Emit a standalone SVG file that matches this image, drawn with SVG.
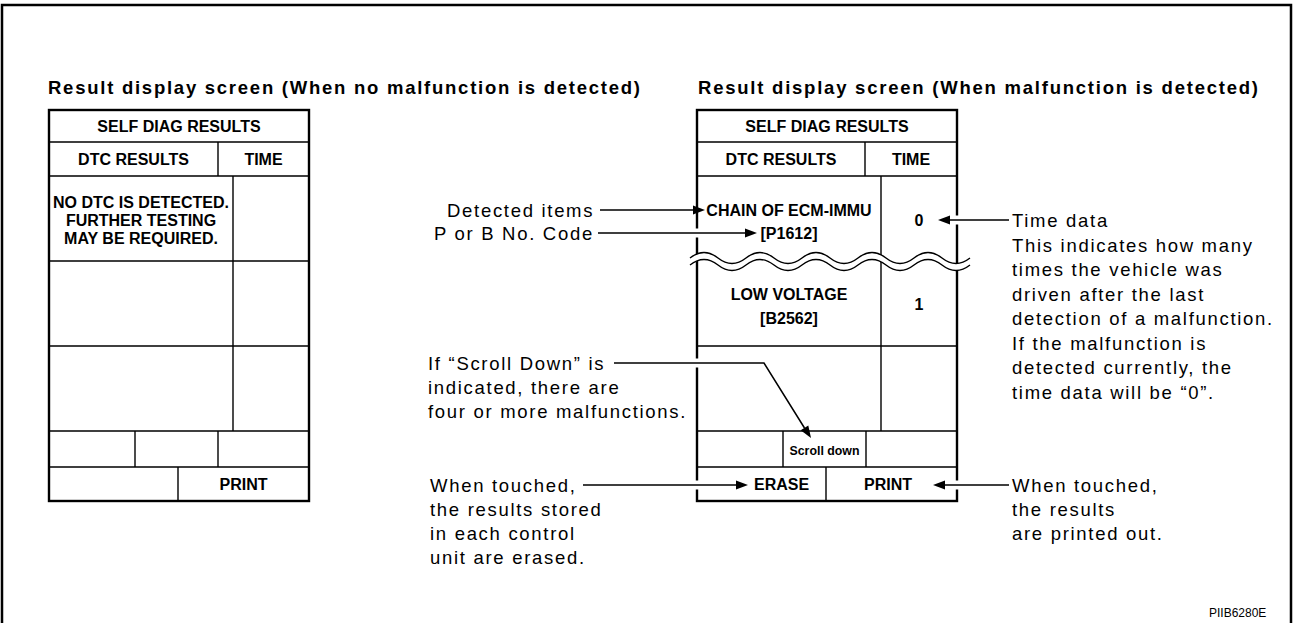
<svg xmlns="http://www.w3.org/2000/svg" width="1295" height="623" viewBox="0 0 1295 623">
<style>
.frame{fill:none;stroke:#000;stroke-width:2.5}
.outer{fill:#fff;stroke:#000;stroke-width:2.4}
.inner{fill:none;stroke:#000;stroke-width:1.4}
.tb{font-family:"Liberation Sans",Arial,sans-serif;font-weight:bold;font-size:16px;text-anchor:middle;fill:#000}
.ttl{font-family:"Liberation Sans",Arial,sans-serif;font-weight:bold;font-size:18.5px;fill:#000}
.lbl{font-family:"Liberation Sans",Arial,sans-serif;font-size:18.5px;letter-spacing:1.7px;fill:#000}
.code{font-family:"Liberation Sans",Arial,sans-serif;font-size:12px;fill:#000}
.halo{fill:none;stroke:#fff;stroke-width:9}
.lead{fill:none;stroke:#000;stroke-width:1.5}
.ah{fill:#000}
.wfill{fill:#fff;stroke:none}
.wline{fill:none;stroke:#000;stroke-width:1.4}
</style>
<rect width="1295" height="623" fill="#fff"/>
<path class="frame" d="M2,623 L2,5 L1291,5 L1291,623"/>
<text class="ttl" x="48" y="94" textLength="592" lengthAdjust="spacing">Result display screen (When no malfunction is detected)</text>
<text class="ttl" x="698" y="94" textLength="560" lengthAdjust="spacing">Result display screen (When malfunction is detected)</text>

<g id="table-no-malfunction">
<rect class="outer" x="49" y="110" width="260" height="391"/>
<path class="inner" d="M49,142H309 M49,176H309 M49,261H309 M49,346H309 M49,431H309 M49,467H309 M218,142V176 M233,176V431 M135,431V467 M218,431V467 M178,467V501"/>
<text class="tb" x="179" y="132">SELF DIAG RESULTS</text>
<text class="tb" x="133.5" y="165">DTC RESULTS</text>
<text class="tb" x="263.5" y="165">TIME</text>
<text class="tb" x="141" y="208">NO DTC IS DETECTED.</text>
<text class="tb" x="141" y="226">FURTHER TESTING</text>
<text class="tb" x="141" y="244">MAY BE REQUIRED.</text>
<text class="tb" x="243.5" y="490">PRINT</text>
</g>

<g id="table-malfunction">
<rect class="outer" x="697" y="110" width="260" height="391"/>
<path class="inner" d="M697,142H957 M697,176H957 M697,346H957 M697,431H957 M697,467H957 M865,142V176 M881,176V431 M783,431V467 M866,431V467 M826,467V501"/>
<path class="wfill" d="M690,258 Q704,247 718,258 Q732,269 746,258 Q760,247 774,258 Q788,269 802,258 Q816,247 830,258 Q844,269 858,258 Q872,247 886,258 Q900,269 914,258 Q928,247 942,258 Q956,269 970,258 L970,265 Q956,276 942,265 Q928,254 914,265 Q900,276 886,265 Q872,254 858,265 Q844,276 830,265 Q816,254 802,265 Q788,276 774,265 Q760,254 746,265 Q732,276 718,265 Q704,254 690,265 Z"/>
<path class="wline" d="M690,258 Q704,247 718,258 Q732,269 746,258 Q760,247 774,258 Q788,269 802,258 Q816,247 830,258 Q844,269 858,258 Q872,247 886,258 Q900,269 914,258 Q928,247 942,258 Q956,269 970,258"/>
<path class="wline" d="M690,265 Q704,254 718,265 Q732,276 746,265 Q760,254 774,265 Q788,276 802,265 Q816,254 830,265 Q844,276 858,265 Q872,254 886,265 Q900,276 914,265 Q928,254 942,265 Q956,276 970,265"/>
<text class="tb" x="827" y="132">SELF DIAG RESULTS</text>
<text class="tb" x="781" y="165">DTC RESULTS</text>
<text class="tb" x="911" y="165">TIME</text>
<text class="tb" x="789" y="216">CHAIN OF ECM-IMMU</text>
<text class="tb" x="789" y="239">[P1612]</text>
<text class="tb" x="919" y="226">0</text>
<text class="tb" x="789" y="300">LOW VOLTAGE</text>
<text class="tb" x="789" y="324">[B2562]</text>
<text class="tb" x="919" y="310">1</text>
<text class="tb" x="824.5" y="455" style="font-size:13px" textLength="70" lengthAdjust="spacingAndGlyphs">Scroll down</text>
<text class="tb" x="754" y="490" style="text-anchor:start">ERASE</text>
<text class="tb" x="888" y="490">PRINT</text>
</g>

<g id="connectors">
<path class="halo" d="M600,210H694 M598,233H746 M614,363H764 M583,485H737 M944,485H1009 M949,220H1009"/>
<path class="lead" d="M600,210H694 M598,233H746 M614,363H764 L804.5,428 M583,485H737 M944,485H1009 M949,220H1009"/>
<polygon class="ah" points="705,210 693,205.5 693,214.5"/>
<polygon class="ah" points="757,233 745,228.5 745,237.5"/>
<polygon class="ah" points="811,438 808.3,425.5 800.7,430.3"/>
<polygon class="ah" points="748,485 736,480.5 736,489.5"/>
<polygon class="ah" points="933,485 945,480.5 945,489.5"/>
<polygon class="ah" points="938,220 950,215.5 950,224.5"/>
</g>

<g id="labels">
<text class="lbl" x="447" y="216.5">Detected items</text>
<text class="lbl" x="434" y="239.5">P or B No. Code</text>
<text class="lbl" x="428" y="369.5">If “Scroll Down” is</text>
<text class="lbl" x="428" y="393.5">indicated, there are</text>
<text class="lbl" x="428" y="417.5">four or more malfunctions.</text>
<text class="lbl" x="430" y="491.5">When touched,</text>
<text class="lbl" x="430" y="515.5">the results stored</text>
<text class="lbl" x="430" y="539.5">in each control</text>
<text class="lbl" x="430" y="563.5">unit are erased.</text>
<text class="lbl" x="1012" y="227">Time data</text>
<text class="lbl" x="1012" y="251.5">This indicates how many</text>
<text class="lbl" x="1012" y="276">times the vehicle was</text>
<text class="lbl" x="1012" y="300.5">driven after the last</text>
<text class="lbl" x="1012" y="325">detection of a malfunction.</text>
<text class="lbl" x="1012" y="349.5">If the malfunction is</text>
<text class="lbl" x="1012" y="374">detected currently, the</text>
<text class="lbl" x="1012" y="398.5">time data will be “0”.</text>
<text class="lbl" x="1012" y="491.5">When touched,</text>
<text class="lbl" x="1012" y="515.5">the results</text>
<text class="lbl" x="1012" y="539.5">are printed out.</text>
<text class="code" x="1209" y="617">PIIB6280E</text>
</g>
</svg>
